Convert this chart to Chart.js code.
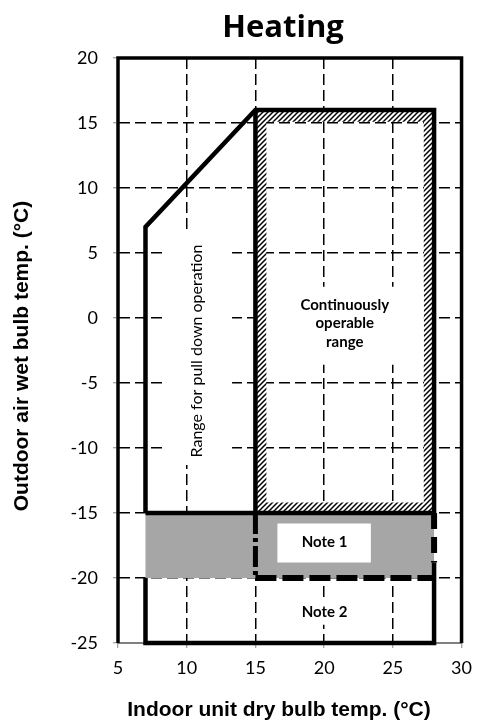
<!DOCTYPE html>
<html>
<head>
<meta charset="utf-8">
<script src="https://cdn.jsdelivr.net/npm/chart.js@4/dist/chart.umd.min.js"></script>
<style>
  html, body { margin: 0; padding: 0; background: #ffffff; }
  #wrap { width: 481px; height: 724px; position: relative; }
</style>
</head>
<body>
<div id="wrap"><canvas id="chart" width="481" height="724"></canvas></div>
<script>
// Axis ticks (°C)
const xTickValues = [5, 10, 15, 20, 25, 30];
const yTickValues = [20, 15, 10, 5, 0, -5, -10, -15, -20, -25];

// Plot frame
const frameX = [5, 5, 30, 30];
const frameY = [-25, 20, 20, -25];

// Pull-down operation envelope (indoor DB, outdoor WB)
const pullDownX = [7, 7, 15, 28, 28, 7];
const pullDownY = [-15, 7, 16, 16, -15, -15];
// Left edge of the continuously operable range
const dividerX = [15, 15];
const dividerY = [16, -15];
// Lower envelope (Note 2 zone)
const lowerX = [7, 7, 28, 28];
const lowerY = [-20, -25, -25, -18.8];
// Note 1 zone borders
const note1RightX = [28, 28];
const note1RightY = [-15, -18.8];
const note1BottomX = [15, 28];
const note1BottomY = [-20, -20];
const note1LeftX = [15, 15];
const note1LeftY = [-15, -20];

// Hatched margin of the continuously operable range: outer ring, then inner ring
const hatchX = [15, 15, 28, 28, 15, 15.8, 27.25, 27.25, 15.8, 15.8, 15];
const hatchY = [-15, 16, 16, -15, -15, -14.2, -14.2, 15.1, 15.1, -14.2, -15];

// Note 1 band
const bandX = [7, 28, 28, 7];
const bandY = [-15, -15, -20, -20];

// Label backgrounds
const note1BoxX = [16.6, 23.4, 23.4, 16.6];
const note1BoxY = [-15.8, -15.8, -18.8, -18.8];
const note2BoxX = [18.2, 21.8, 21.8, 18.2];
const note2BoxY = [-21.7, -21.7, -23.6, -23.6];
const pullBoxX = [8.35, 13.3, 13.3, 8.35];
const pullBoxY = [6.8, 6.8, -11.3, -11.3];
const contBoxX = [15.8, 27.25, 27.25, 15.8];
const contBoxY = [2.4, 2.4, -3.6, -3.6];

// Texts
const chartTitle = 'Heating';
const xTitle = 'Indoor unit dry bulb temp. (°C)';
const yTitle = 'Outdoor air wet bulb temp. (°C)';
const contLines = ['Continuously', 'operable', 'range'];
const pullText = 'Range for pull down operation';
const note1Text = 'Note 1';
const note2Text = 'Note 2';

const pts = (xs, ys) => xs.map((x, i) => ({ x: x, y: ys[i] }));

// Diagonal hatch on a white ground
function makeHatch() {
  const n = 5;
  const c = document.createElement('canvas');
  c.width = n; c.height = n;
  const g = c.getContext('2d');
  g.fillStyle = '#ffffff';
  g.fillRect(0, 0, n, n);
  g.strokeStyle = '#000000';
  g.lineWidth = 1.5;
  g.beginPath();
  g.moveTo(-1, 1); g.lineTo(1, -1);
  g.moveTo(0, n); g.lineTo(n, 0);
  g.moveTo(n - 1, n + 1); g.lineTo(n + 1, n - 1);
  g.stroke();
  return g.createPattern(c, 'repeat');
}
const hatch = makeHatch();

const SOLID = [1000, 0];

function area(xs, ys, color, order) {
  return {
    data: pts(xs, ys), order: order,
    borderWidth: 0, borderColor: 'rgba(0,0,0,0)', borderDash: SOLID,
    backgroundColor: color, fill: 'shape', pointRadius: 0, clip: false
  };
}
function stroke(xs, ys, width, dash, order) {
  return {
    data: pts(xs, ys), order: order,
    borderWidth: width, borderColor: '#000000', borderDash: dash || SOLID,
    borderCapStyle: 'butt', borderJoinStyle: 'miter',
    backgroundColor: 'rgba(0,0,0,0)', fill: false, pointRadius: 0, clip: false
  };
}

const datasets = [
  stroke(frameX, frameY, 3.5, null, 0),
  stroke(pullDownX, pullDownY, 4.5, null, 1),
  stroke(dividerX, dividerY, 4.5, null, 1),
  stroke(lowerX, lowerY, 4.5, null, 1),
  stroke(note1RightX, note1RightY, 6, [16, 8], 1),
  stroke(note1BottomX, note1BottomY, 6, [21, 6], 1),
  stroke(note1LeftX, note1LeftY, 5, [21, 4, 4, 4], 1),
  area(note1BoxX, note1BoxY, '#ffffff', 2),
  area(note2BoxX, note2BoxY, '#ffffff', 2),
  area(pullBoxX, pullBoxY, '#ffffff', 2),
  area(contBoxX, contBoxY, '#ffffff', 2),
  area(bandX, bandY, '#a6a6a6', 3),
  area(hatchX, hatchY, hatch, 4)
];

// Texts placed in data coordinates through the scales
const textPlugin = {
  id: 'texts',
  afterDatasetsDraw(chart) {
    const ctx = chart.ctx;
    const xs = chart.scales.x, ys = chart.scales.y;
    ctx.save();
    ctx.fillStyle = '#000000';
    ctx.textAlign = 'center';
    ctx.textBaseline = 'middle';

    ctx.font = 'bold 15px Lato';
    const cx = xs.getPixelForValue(21.5), cy = ys.getPixelForValue(-0.4);
    contLines.forEach((t, i) => ctx.fillText(t, cx, cy + (i - 1) * 18.5));
    ctx.fillText(note1Text, xs.getPixelForValue(20.03), ys.getPixelForValue(-17.23));
    ctx.fillText(note2Text, xs.getPixelForValue(20.03), ys.getPixelForValue(-22.6));

    ctx.save();
    ctx.translate(xs.getPixelForValue(10.77), ys.getPixelForValue(-2.54));
    ctx.rotate(-Math.PI / 2);
    ctx.font = '16px Lato';
    ctx.fillText(pullText, 0, 0);
    ctx.restore();

    ctx.font = 'bold 31px "Open Sans"';
    ctx.fillText(chartTitle, 283, 28);

    ctx.font = 'bold 21px "Liberation Sans"';
    ctx.fillText(xTitle, 279, 710);
    ctx.save();
    ctx.translate(22, 356);
    ctx.rotate(-Math.PI / 2);
    ctx.fillText(yTitle, 0, 0);
    ctx.restore();
    ctx.restore();
  }
};

const edgeHidden = (lo, hi) => (c) => {
  const v = c.tick ? c.tick.value : null;
  return (v === lo || v === hi) ? 'rgba(0,0,0,0)' : '#000000';
};

new Chart(document.getElementById('chart'), {
  type: 'line',
  data: { datasets: datasets },
  options: {
    responsive: false,
    animation: false,
    events: [],
    layout: { padding: { left: 0, right: 12, top: 58, bottom: 0 } },
    plugins: { legend: { display: false }, tooltip: { enabled: false }, title: { display: false } },
    elements: { line: { tension: 0 } },
    scales: {
      x: {
        type: 'linear', min: 5, max: 30,
        afterBuildTicks: (s) => { s.ticks = xTickValues.map(v => ({ value: v })); },
        afterFit: (s) => { s.height = 81; },
        grid: { color: edgeHidden(5, 30), lineWidth: 1.5, tickColor: '#888888', tickLength: 5, tickWidth: 1 },
        border: { display: true, color: '#808080', width: 2, dash: [11, 5] },
        ticks: { padding: 9, color: '#000000', font: { family: 'Lato', size: 18 } }
      },
      y: {
        type: 'linear', min: -25, max: 20,
        afterBuildTicks: (s) => { s.ticks = yTickValues.map(v => ({ value: v })); },
        afterFit: (s) => { s.width = 118; },
        grid: { color: edgeHidden(-25, 20), lineWidth: 1.5, tickColor: '#888888', tickLength: 5, tickWidth: 1 },
        border: { display: true, color: '#808080', width: 1, dash: [11, 5] },
        ticks: { padding: 15, color: '#000000', font: { family: 'Lato', size: 18 } }
      }
    }
  },
  plugins: [textPlugin]
});
</script>
</body>
</html>
